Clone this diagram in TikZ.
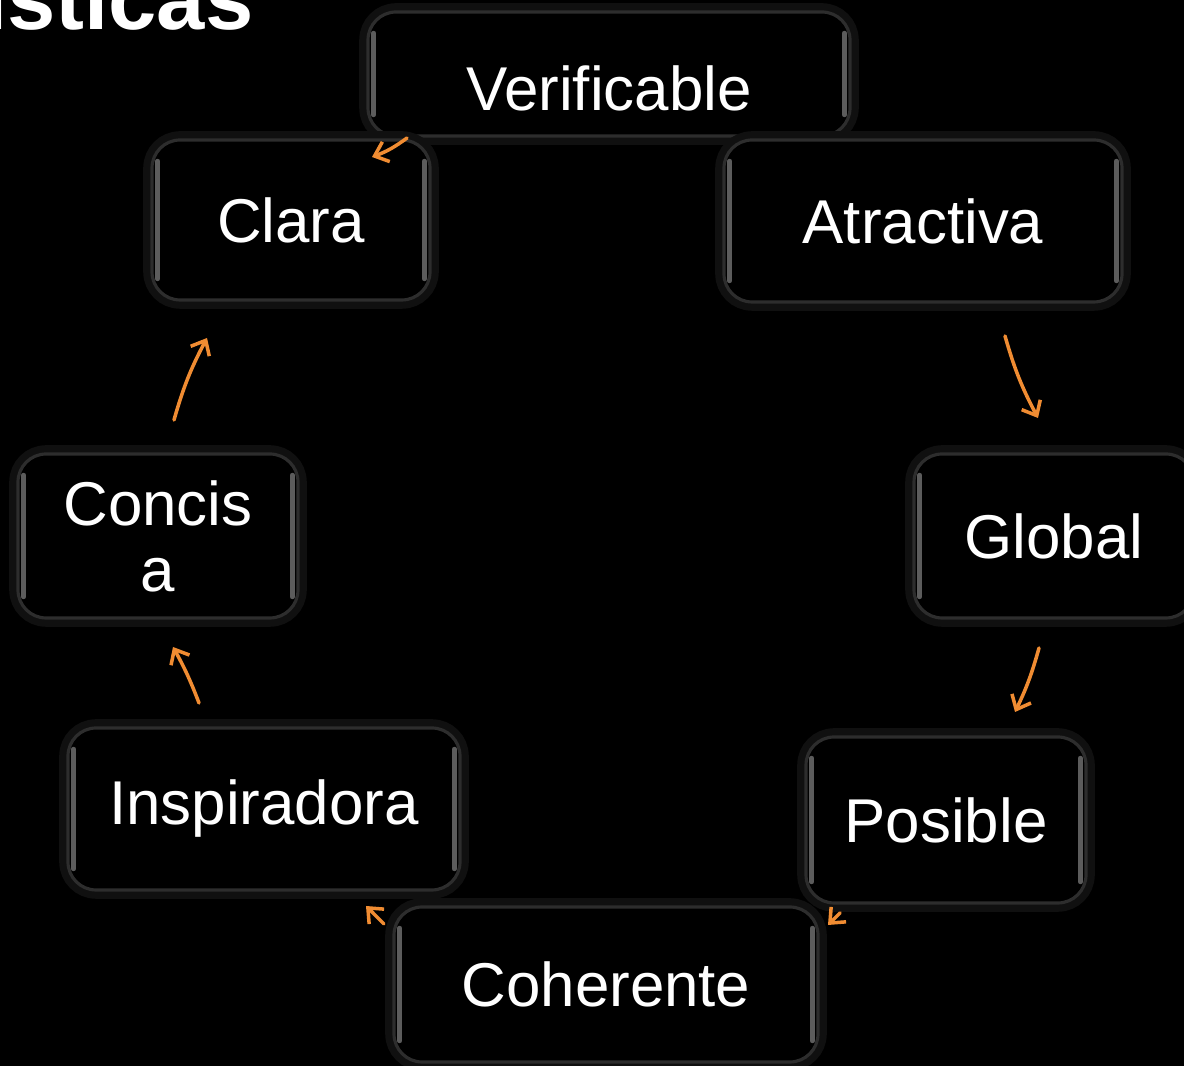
\documentclass[tikz,border=0pt]{standalone}
\usepackage{fontspec}
\setmainfont{Liberation Sans}
\usetikzlibrary{arrows.meta}
\definecolor{flecha}{RGB}{240,140,50}
\definecolor{borde}{RGB}{45,45,45}
\definecolor{halo}{RGB}{16,16,16}
\definecolor{brillo}{RGB}{92,92,92}
\tikzset{
  caja/.style={rectangle, rounded corners=8pt, fill=black, draw=borde, line width=0.9pt,
    preaction={draw=halo, line width=5pt}, text=white, align=center,
    font=\fontsize{17.6}{18.8}\selectfont,
    path picture={
      \draw[brillo, line width=1.3pt, line cap=round]
        ([xshift=1.6pt,yshift=6pt]path picture bounding box.south west) --
        ([xshift=1.6pt,yshift=-6pt]path picture bounding box.north west);
      \draw[brillo, line width=1.3pt, line cap=round]
        ([xshift=-1.6pt,yshift=6pt]path picture bounding box.south east) --
        ([xshift=-1.6pt,yshift=-6pt]path picture bounding box.north east);
    }},
  flechita/.style={draw=flecha, line width=1pt, line cap=round,
    -{Straight Barb[length=3.5pt,width=6pt]}}
}

\begin{document}
\begin{tikzpicture}
    \useasboundingbox (0,0) rectangle (11.84,10.66);
    \clip (0,0) rectangle (11.84,10.66);
    \fill[black] (0,0) rectangle (11.84,10.66);
    \node[anchor=base east, text=white, font=\bfseries\fontsize{24.7}{28}\selectfont]
        (titulo) at (2.66,10.36) {Características};

    \node[caja, minimum width=4.82cm, minimum height=1.24cm] (verif) at (6.09,9.92)
        {\raisebox{-1.4mm}[\height][\depth]{Verificable}};
    \node[caja, minimum width=2.78cm, minimum height=1.60cm] (clara) at (2.91,8.46) {Clara};
    \node[caja, minimum width=3.98cm, minimum height=1.62cm] (atrac) at (9.23,8.45) {Atractiva};
    \node[caja, minimum width=2.80cm, minimum height=1.64cm] (concisa) at (1.58,5.30) {Concis\\a};
    \node[caja, minimum width=2.80cm, minimum height=1.64cm] (global) at (10.54,5.30) {Global};
    \node[caja, minimum width=3.92cm, minimum height=1.62cm] (insp) at (2.64,2.57) {Inspiradora};
    \node[caja, minimum width=2.80cm, minimum height=1.66cm] (posible) at (9.46,2.46) {Posible};
    \node[caja, minimum width=4.24cm, minimum height=1.55cm] (coher) at (6.06,0.815) {Coherente};

    \coordinate (vc1) at (4.07,9.28);
    \coordinate (vc2) at (3.72,9.09);
    \coordinate (cc1) at (1.74,6.46);
    \coordinate (cc2) at (2.07,7.28);
    \coordinate (ic1) at (1.99,3.63);
    \coordinate (ic2) at (1.73,4.19);
    \coordinate (hi1) at (3.84,1.42);
    \coordinate (hi2) at (3.66,1.60);
    \coordinate (ph1) at (8.40,1.53);
    \coordinate (ph2) at (8.28,1.41);
    \coordinate (gp1) at (10.39,4.18);
    \coordinate (gp2) at (10.15,3.54);
    \coordinate (ag1) at (10.05,7.30);
    \coordinate (ag2) at (10.38,6.48);

    \draw[flechita] (vc1) to[bend left=8] (vc2);
    \draw[flechita] (cc1) to[bend left=6] (cc2);
    \draw[flechita] (ic1) to[bend right=4] (ic2);
    \draw[flechita] (hi1) -- (hi2);
    \draw[flechita] (ph1) -- (ph2);
    \draw[flechita] (gp1) to[bend left=5] (gp2);
    \draw[flechita] (ag1) to[bend right=6] (ag2);
\end{tikzpicture}
\end{document}
